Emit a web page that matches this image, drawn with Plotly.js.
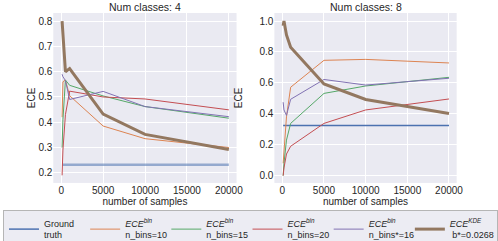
<!DOCTYPE html>
<html>
<head>
<meta charset="utf-8">
<script src="https://cdn.plot.ly/plotly-3.0.1.min.js"></script>
<style>
html,body{margin:0;padding:0;background:#fff;}
#chart{width:498px;height:241px;}
</style>
</head>
<body>
<div id="chart"></div>
<script>
// ---- data ----
var samples = [100, 200, 500, 1000, 5000, 10000, 20000];
var seriesNames = [
  'Ground<br>truth',
  '<i>ECE</i><sup><i>bin</i></sup><br>n_bins=10',
  '<i>ECE</i><sup><i>bin</i></sup><br>n_bins=15',
  '<i>ECE</i><sup><i>bin</i></sup><br>n_bins=20',
  '<i>ECE</i><sup><i>bin</i></sup><br>n_bins*=16',
  '<i>ECE</i><sup><i>KDE</i></sup><br> b*=0.0268'
];
var panelTitles = ['Num classes: 4', 'Num classes: 8'];

// 4 classes
var gt4    = [0.232, 0.232, 0.232, 0.232, 0.232, 0.232, 0.232];
var bin10_4 = [0.42, 0.56, 0.567, 0.505, 0.385, 0.335, 0.300];
var bin15_4 = [0.30, 0.41, 0.567, 0.546, 0.504, 0.462, 0.416];
var bin20_4 = [0.19, 0.29, 0.43, 0.523, 0.500, 0.492, 0.449];
var bin16_4 = [0.59, 0.58, 0.565, 0.490, 0.522, 0.462, 0.422];
var kde_4   = [0.80, 0.75, 0.60, 0.612, 0.432, 0.352, 0.292];

// 8 classes
var gt8    = [0.325, 0.325, 0.325, 0.325, 0.325, 0.325, 0.325];
var bin10_8 = [0.08, 0.17, 0.38, 0.572, 0.746, 0.752, 0.729];
var bin15_8 = [0.00, 0.08, 0.23, 0.338, 0.532, 0.580, 0.636];
var bin20_8 = [0.00, 0.05, 0.14, 0.190, 0.338, 0.425, 0.496];
var bin16_8 = [0.475, 0.425, 0.39, 0.494, 0.622, 0.586, 0.630];
var kde_8   = [0.97, 1.00, 0.91, 0.830, 0.593, 0.493, 0.402];

// ---- styles ----
var colors = ['#4c72b0', '#dd8452', '#55a868', '#c44e52', '#8172b3', '#937860'];
var widths = [1.5, 1, 1, 1, 1, 3];

var panels = [
  {xa: 'x', ya: 'y', data: [gt4, bin10_4, bin15_4, bin20_4, bin16_4, kde_4], legend: false},
  {xa: 'x2', ya: 'y2', data: [gt8, bin10_8, bin15_8, bin20_8, bin16_8, kde_8], legend: true}
];

var traces = [];
panels.forEach(function (p, pi) {
  p.data.forEach(function (ys, i) {
    var w = widths[i];
    var op = 1;
    if (i === 0 && pi === 0) { w = 2.5; op = 0.55; }
    traces.push({
      x: samples, y: ys, xaxis: p.xa, yaxis: p.ya,
      type: 'scatter', mode: 'lines',
      name: seriesNames[i],
      showlegend: p.legend,
      legendrank: i + 1,
      line: {color: colors[i], width: w},
      opacity: op,
      hoverinfo: 'skip'
    });
  });
});

var fam = 'Liberation Sans, Arial, sans-serif';
var tickFont = {family: fam, size: 10, color: '#262626'};
function xaxis(domain, anchor) {
  return {
    domain: domain, anchor: anchor, range: [-950, 20920],
    tickvals: [0, 5000, 10000, 15000, 20000],
    ticktext: ['0', '5000', '10000', '15000', '20000'],
    showgrid: true, gridcolor: '#ffffff', gridwidth: 1,
    zeroline: false, showline: false, ticks: '', tickfont: tickFont,
    automargin: false,
    title: {text: 'number of samples', font: tickFont, standoff: 2}
  };
}
function yaxis(domain, anchor, range, tv, tt, so) {
  return {
    domain: domain, anchor: anchor, range: range,
    tickvals: tv, ticktext: tt,
    showgrid: true, gridcolor: '#ffffff', gridwidth: 1,
    zeroline: false, showline: false, ticks: '', tickfont: tickFont,
    automargin: false,
    title: {text: 'ECE', font: tickFont, standoff: so}
  };
}

var layout = {
  width: 498, height: 241,
  margin: {l: 0, r: 0, t: 0, b: 0, autoexpand: false},
  paper_bgcolor: '#ffffff',
  plot_bgcolor: '#eaeaf2',
  font: {family: fam, size: 10, color: '#262626'},
  xaxis: xaxis([0.107, 0.475], 'y'),
  yaxis: yaxis([0.241, 0.946], 'x', [0.160, 0.832],
    [0.2, 0.3, 0.4, 0.5, 0.6, 0.7, 0.8], ['0.2', '0.3', '0.4', '0.5', '0.6', '0.7', '0.8'], 0),
  xaxis2: xaxis([0.551, 0.917], 'y2'),
  yaxis2: yaxis([0.241, 0.946], 'x2', [-0.047, 1.052],
    [0, 0.2, 0.4, 0.6, 0.8, 1.0], ['0.0', '0.2', '0.4', '0.6', '0.8', '1.0'], 14),
  annotations: [
    {text: panelTitles[0], xref: 'paper', yref: 'paper', x: 0.291, y: 0.972, xanchor: 'center', yanchor: 'middle',
     showarrow: false, font: {family: fam, size: 10.5, color: '#262626'}},
    {text: panelTitles[1], xref: 'paper', yref: 'paper', x: 0.734, y: 0.972, xanchor: 'center', yanchor: 'middle',
     showarrow: false, font: {family: fam, size: 10.5, color: '#262626'}}
  ],
  legend: {
    orientation: 'h', x: 0.006, y: 0.129, xanchor: 'left', yanchor: 'top',
    bgcolor: '#ececf3', bordercolor: '#b5b5b5', borderwidth: 1,
    font: {family: fam, size: 9, color: '#262626'},
    entrywidthmode: 'fraction', entrywidth: 0.163,
    itemwidth: 30, tracegroupgap: 0, valign: 'middle', traceorder: 'normal'
  },
  showlegend: true
};

Plotly.newPlot('chart', traces, layout, {staticPlot: true, displayModeBar: false});
</script>
</body>
</html>
